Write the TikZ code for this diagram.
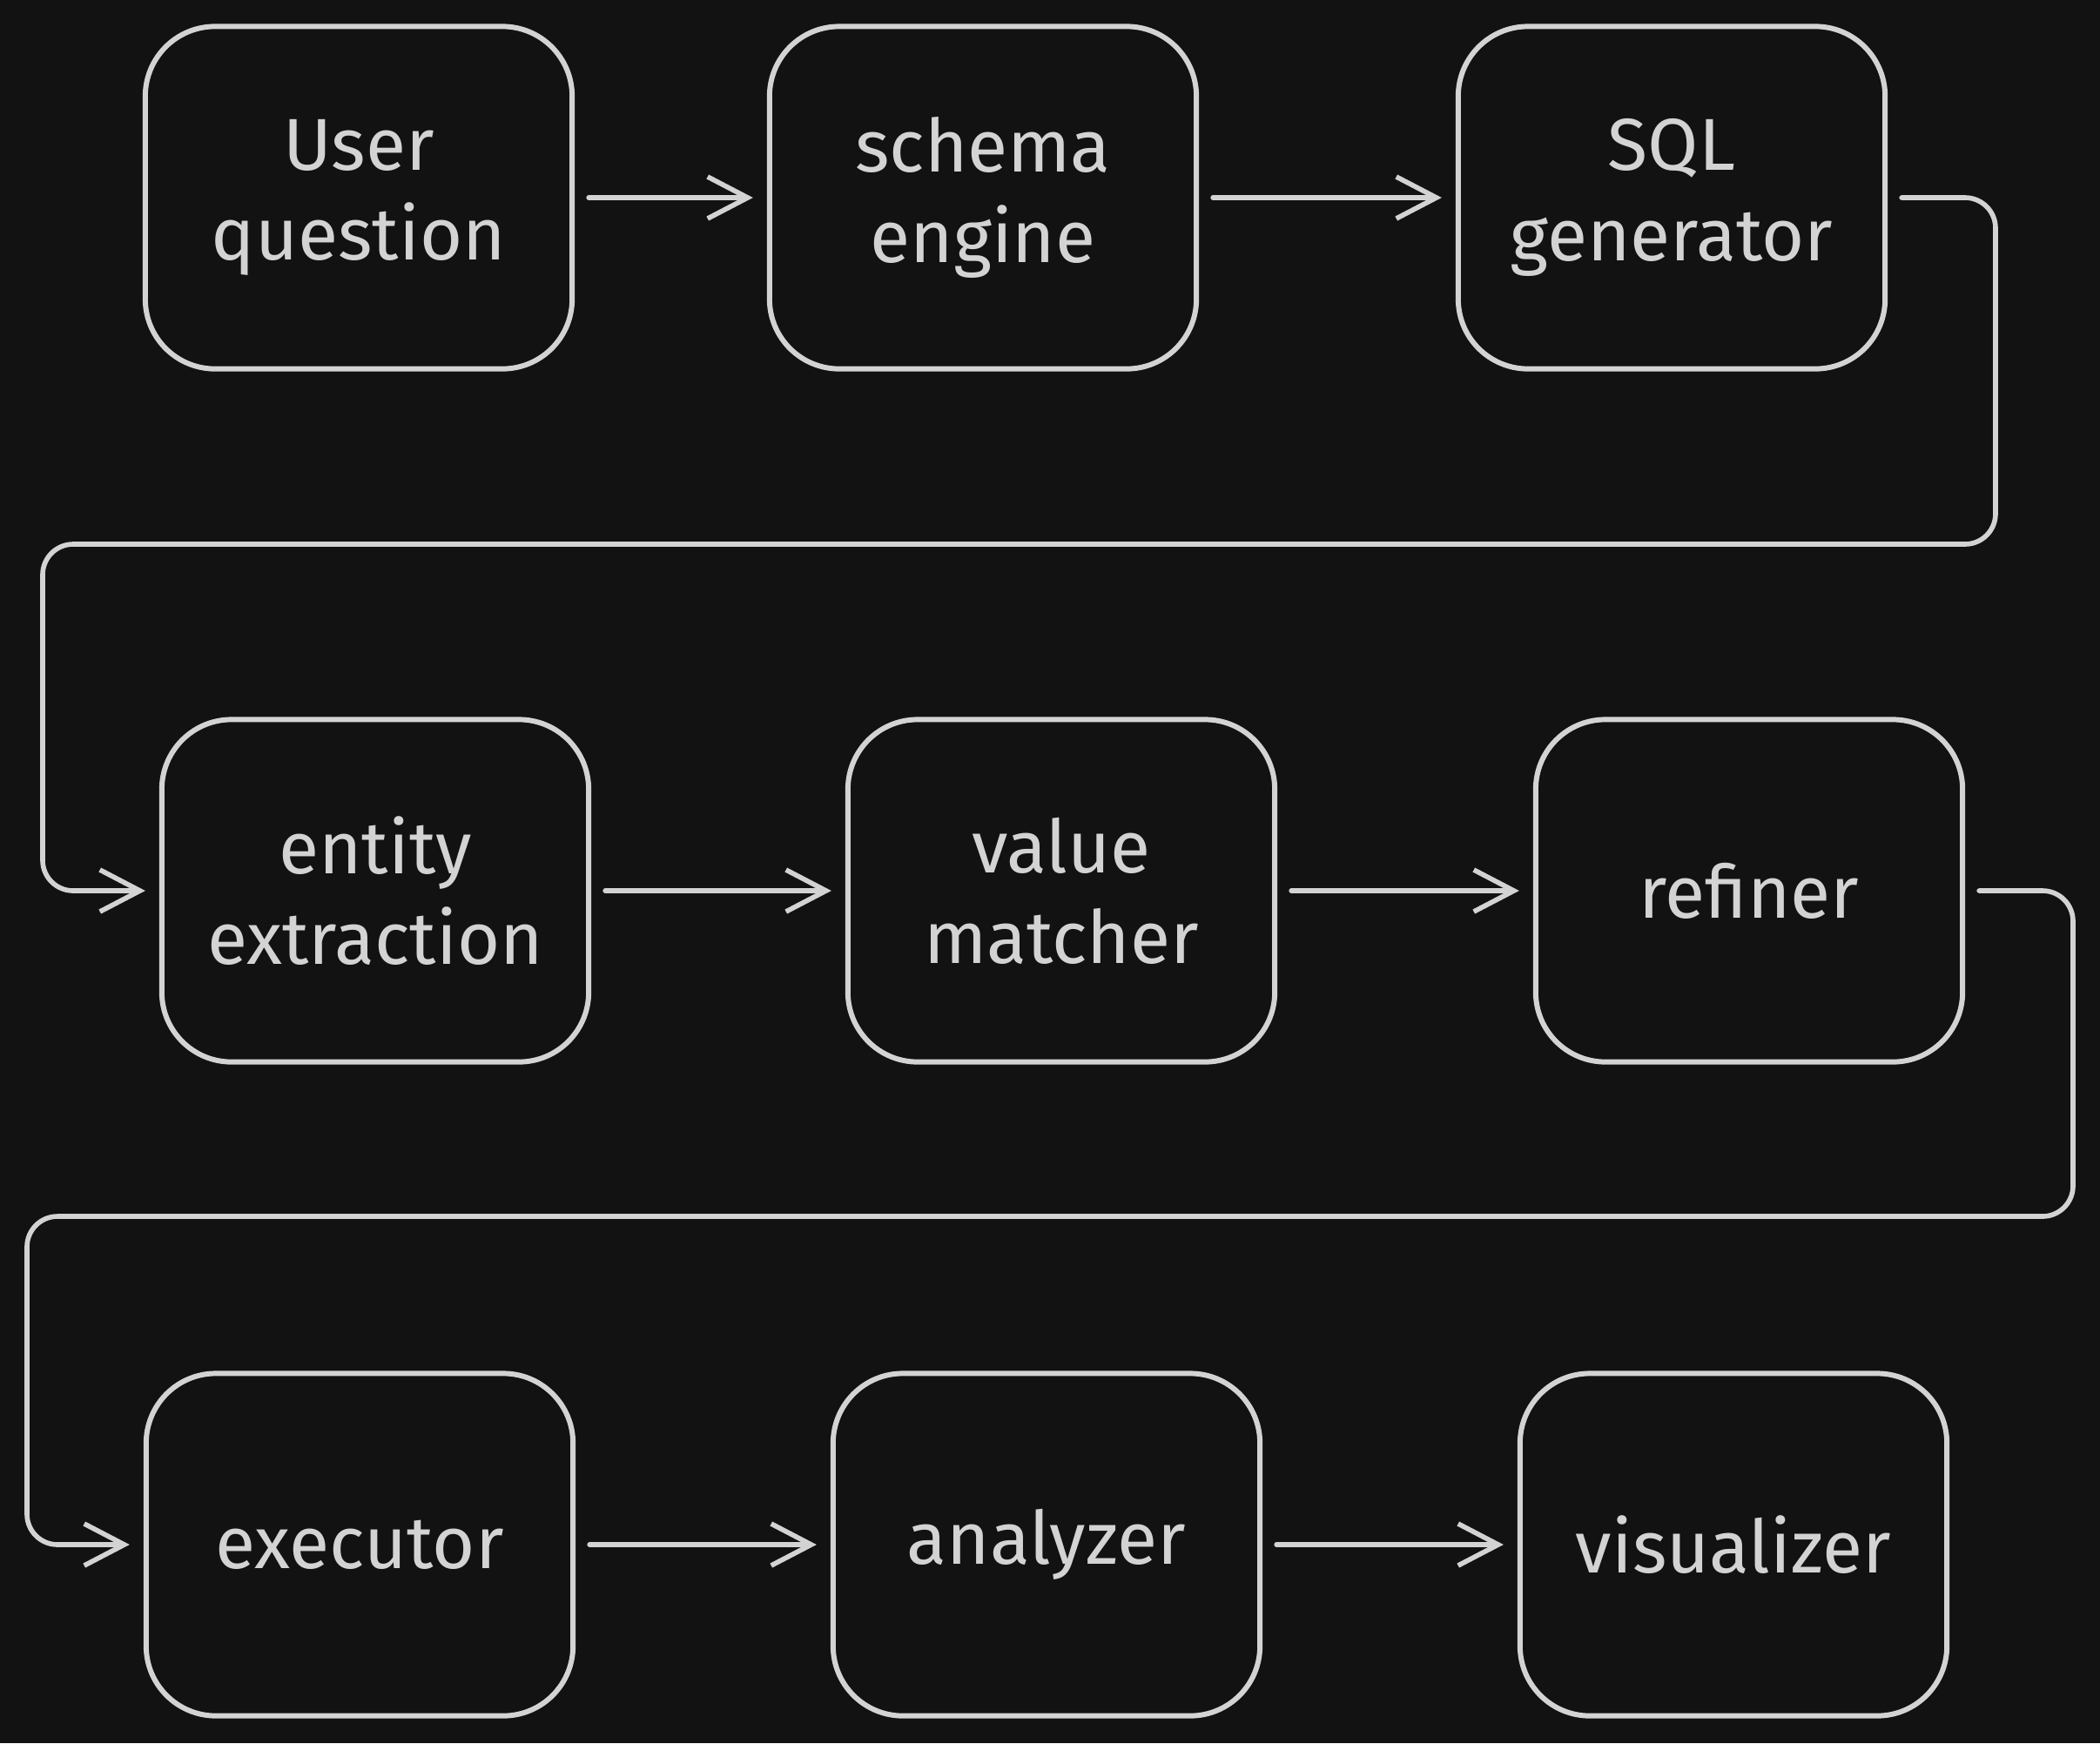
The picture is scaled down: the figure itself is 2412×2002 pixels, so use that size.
\documentclass[tikz,border=0pt]{standalone}
\usepackage{fontspec}
\setmainfont{Fira Sans}
\usetikzlibrary{arrows.meta}
\definecolor{bgc}{HTML}{121212}
\definecolor{ink}{HTML}{D3D3D3}
\begin{document}
\begin{tikzpicture}[x=0.01cm,y=-0.01cm,
  box/.style={draw=ink, line width=1.7pt, rounded corners=0.8cm, minimum width=4.9cm, minimum height=3.93cm,
    align=center, text=ink, font=\fontsize{24}{29.5}\selectfont, inner sep=0pt},
  arr/.style={draw=ink, line width=1.6pt, line cap=round, line join=round, rounded corners=0.35cm,
    -{Straight Barb[length=0.46cm, width=0.48cm, line width=1.6pt]}}]
\fill[bgc] (0,0) rectangle (2412,2002);
\useasboundingbox (0,0) rectangle (2412,2002);
% row 1
\node[box] (uq) at (412,227) {User\\question};
\node[box] (se) at (1129,227) {schema\\engine};
\node[box] (sg) at (1920,227) {SQL\\generator};
% row 2
\node[box] (ee) at (431,1023) {entity\\extraction};
\node[box] (vm) at (1219,1023) {value\\matcher};
\node[box] (rf) at (2009,1023) {refiner};
% row 3
\node[box] (ex) at (413,1774) {executor};
\node[box] (an) at (1202,1774) {analyzer};
\node[box] (vz) at (1991,1774) {visualizer};
% turn points
\coordinate (r1) at (2292,625);
\coordinate (l1) at (49,625);
\coordinate (r2) at (2381,1397);
\coordinate (l2) at (31,1397);
% arrows
\draw[arr] ([xshift=0.16cm]uq.east) -- ([xshift=-0.16cm]se.west);
\draw[arr] ([xshift=0.16cm]se.east) -- ([xshift=-0.16cm]sg.west);
\draw[arr] ([xshift=0.16cm]sg.east) -| (r1) -- (l1) |- ([xshift=-0.16cm]ee.west);
\draw[arr] ([xshift=0.16cm]ee.east) -- ([xshift=-0.16cm]vm.west);
\draw[arr] ([xshift=0.16cm]vm.east) -- ([xshift=-0.16cm]rf.west);
\draw[arr] ([xshift=0.16cm]rf.east) -| (r2) -- (l2) |- ([xshift=-0.16cm]ex.west);
\draw[arr] ([xshift=0.16cm]ex.east) -- ([xshift=-0.16cm]an.west);
\draw[arr] ([xshift=0.16cm]an.east) -- ([xshift=-0.16cm]vz.west);
\end{tikzpicture}
\end{document}
